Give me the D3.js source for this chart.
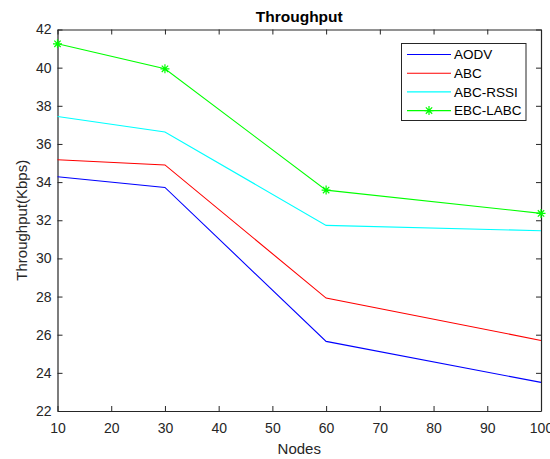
<!DOCTYPE html>
<html>
<head>
<meta charset="utf-8">
<script src="https://cdn.jsdelivr.net/npm/d3@7"></script>
<style>
  html, body { margin: 0; padding: 0; background: #fff; }
  svg { display: block; font-family: "Liberation Sans", Arial, sans-serif; }
</style>
</head>
<body>
<svg id="chart" width="550" height="459"></svg>
<script>
// Throughput per node count for each routing protocol
const nodes = [10, 30, 60, 100];
const aodv = [34.28, 33.72, 25.65, 23.5];
const abc = [35.17, 34.9, 27.92, 25.7];
const abcRssi = [37.44, 36.63, 31.73, 31.45];
const ebcLabc = [41.25, 39.94, 33.58, 32.36];

const seriesNames = ["AODV", "ABC", "ABC-RSSI", "EBC-LABC"];
const seriesColors = ["#0000ff", "#ff0000", "#00ffff", "#00ff00"];
const seriesValues = [aodv, abc, abcRssi, ebcLabc];
const seriesMarkers = [false, false, false, true];

const xTicks = [10, 20, 30, 40, 50, 60, 70, 80, 90, 100];
const yTicks = [22, 24, 26, 28, 30, 32, 34, 36, 38, 40, 42];

const svg = d3.select("#chart");
const L = 57.5, R = 541, T = 29.5, B = 411;
const axisColor = "#262626";

const x = d3.scaleLinear().domain([10, 100]).range([L, R]);
const y = d3.scaleLinear().domain([22, 42]).range([B, T]);

// Axes box with inward ticks on all four sides
const tickLen = 5;
const fmt = d3.format("d");
svg.append("g").attr("transform", `translate(0,${B})`)
  .call(d3.axisBottom(x).tickValues(xTicks).tickSizeInner(-tickLen).tickSizeOuter(0).tickPadding(12).tickFormat(fmt));
svg.append("g").attr("transform", `translate(0,${T})`)
  .call(d3.axisTop(x).tickValues(xTicks).tickSizeInner(-tickLen).tickSizeOuter(0).tickFormat(""));
svg.append("g").attr("transform", `translate(${L},0)`)
  .call(d3.axisLeft(y).tickValues(yTicks).tickSizeInner(-tickLen).tickSizeOuter(0).tickPadding(6).tickFormat(fmt));
svg.append("g").attr("transform", `translate(${R},0)`)
  .call(d3.axisRight(y).tickValues(yTicks).tickSizeInner(-tickLen).tickSizeOuter(0).tickFormat(""));

svg.selectAll(".domain").attr("stroke", axisColor).attr("stroke-width", 1.2);
svg.selectAll(".tick line").attr("stroke", axisColor).attr("stroke-width", 1);
svg.selectAll(".tick text").attr("fill", axisColor).attr("font-size", 14)
  .attr("font-family", "'Liberation Sans', Arial, sans-serif");

// Star marker (asterisk) path
function starPath(cx, cy, r) {
  let p = "";
  for (let i = 0; i < 4; i++) {
    const a = i * Math.PI / 4;
    const dx = r * Math.cos(a), dy = r * Math.sin(a);
    p += `M${cx - dx},${cy - dy}L${cx + dx},${cy + dy}`;
  }
  return p;
}

const line = d3.line().x((d, i) => x(nodes[i])).y(d => y(d));
const plot = svg.append("g");
seriesValues.forEach((vals, k) => {
  plot.append("path").datum(vals)
    .attr("d", line)
    .attr("fill", "none")
    .attr("stroke", seriesColors[k])
    .attr("stroke-width", 1.1);
  if (seriesMarkers[k]) {
    plot.selectAll(null).data(vals).enter().append("path")
      .attr("d", (d, i) => starPath(x(nodes[i]), y(d), 4.5))
      .attr("stroke", seriesColors[k])
      .attr("stroke-width", 1.2)
      .attr("fill", "none");
  }
});

// Title and axis labels
svg.append("text").attr("x", (L + R) / 2).attr("y", 21.5)
  .attr("text-anchor", "middle").attr("font-size", 15.5).attr("font-weight", "bold")
  .attr("fill", "#000").text("Throughput");
svg.append("text").attr("x", (L + R) / 2).attr("y", 454)
  .attr("text-anchor", "middle").attr("font-size", 15).attr("fill", axisColor).text("Nodes");
svg.append("text").attr("transform", `translate(27,${(T + B) / 2}) rotate(-90)`)
  .attr("text-anchor", "middle").attr("font-size", 15).attr("fill", axisColor).text("Throughput(Kbps)");

// Legend
const lg = svg.append("g");
lg.append("rect").attr("x", 401.5).attr("y", 43.5).attr("width", 124.5).attr("height", 77)
  .attr("fill", "#fff").attr("stroke", axisColor).attr("stroke-width", 1);
seriesNames.forEach((name, k) => {
  const yy = 54.5 + k * 18.7;
  lg.append("line").attr("x1", 407).attr("x2", 451).attr("y1", yy).attr("y2", yy)
    .attr("stroke", seriesColors[k]).attr("stroke-width", 1.1);
  if (seriesMarkers[k]) {
    lg.append("path").attr("d", starPath(429, yy, 4.5))
      .attr("stroke", seriesColors[k]).attr("stroke-width", 1.2).attr("fill", "none");
  }
  lg.append("text").attr("x", 454).attr("y", yy + 4.8).attr("font-size", 13.5)
    .attr("fill", "#000").text(name);
});
</script>
</body>
</html>
